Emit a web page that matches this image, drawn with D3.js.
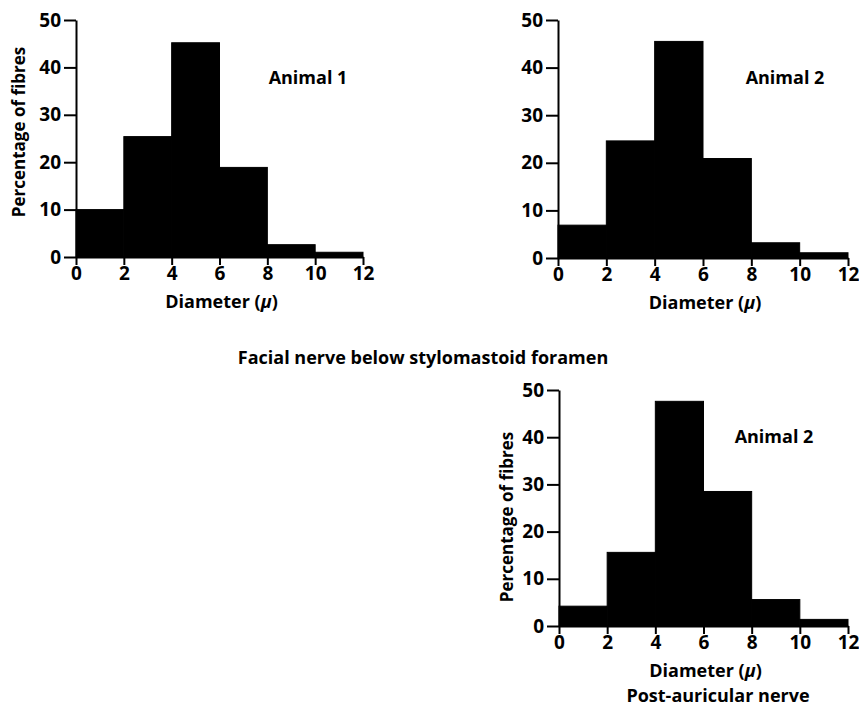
<!DOCTYPE html>
<html>
<head>
<meta charset="utf-8">
<script src="https://cdn.jsdelivr.net/npm/d3@7"></script>
<style>
  body { margin: 0; background: #fff; }
  svg text { font-family: "Open Sans", Lato, sans-serif; font-weight: 700; fill: #000; }
  .axis path, .axis line { stroke: #000; stroke-width: 2; }
  .axis text { font-size: 19px; font-family: "Open Sans", Lato, sans-serif; font-weight: 700; }
</style>
</head>
<body>
<div id="viz-body"></div>
<script>
// bin edges for the diameter histograms (microns)
const binEdges = [0, 2, 4, 6, 8, 10, 12];
const xTicks = [0, 2, 4, 6, 8, 10, 12];
const yTicks = [0, 10, 20, 30, 40, 50];

// percentage of fibres in each 2 micron bin
const animal1Facial = [10.0, 25.4, 45.2, 18.9, 2.6, 1.0];
const animal2Facial = [6.9, 24.6, 45.5, 20.9, 3.2, 1.1];
const animal2PostAuricular = [4.2, 15.6, 47.6, 28.5, 5.6, 1.4];

const width = 859, height = 707;

const svg = d3.select("#viz-body")
    .append("svg")
    .attr("width", width)
    .attr("height", height);

function drawPanel(box, values, opts) {
    let x = d3.scaleLinear().domain([0, 12]).range([box.left, box.right]);
    let y = d3.scaleLinear().domain([0, 50]).range([box.bottom, box.top]);

    // bars
    svg.append("g").selectAll("rect")
        .data(values)
        .join("rect")
        .attr("x", (d, i) => x(binEdges[i]))
        .attr("width", (d, i) => x(binEdges[i + 1]) - x(binEdges[i]))
        .attr("y", d => y(d))
        .attr("height", d => y(0) - y(d))
        .attr("fill", "#000")
        .attr("stroke", "#000")
        .attr("stroke-width", 1);

    // x axis
    svg.append("g")
        .attr("class", "axis")
        .attr("transform", "translate(0," + box.bottom + ")")
        .call(d3.axisBottom(x).tickValues(xTicks).tickSize(8).tickSizeOuter(0).tickPadding(2));

    // y axis
    svg.append("g")
        .attr("class", "axis")
        .attr("transform", "translate(" + box.left + ",0)")
        .call(d3.axisLeft(y).tickValues(yTicks).tickSize(12).tickSizeOuter(0).tickPadding(3));

    svg.append("text")
        .attr("x", (box.left + box.right) / 2 + 2)
        .attr("y", box.bottom + 51)
        .attr("text-anchor", "middle")
        .style("font-size", "18px")
        .html("Diameter (<tspan font-style='italic'>μ</tspan>)");

    svg.append("text")
        .attr("x", opts.animalX)
        .attr("y", opts.animalY)
        .attr("text-anchor", "middle")
        .style("font-size", "18px")
        .text(opts.animal);

    if (opts.yLabel) {
        svg.append("text")
            .attr("transform", "translate(" + opts.yLabelX + "," + opts.yLabelY + ") rotate(-90)")
            .attr("text-anchor", "middle")
            .style("font-size", "17px")
            .text("Percentage of fibres");
    }
}

drawPanel({ left: 76, right: 363, top: 20, bottom: 257 }, animal1Facial,
    { animal: "Animal 1", animalX: 308, animalY: 84, yLabel: true, yLabelX: 25, yLabelY: 132 });
drawPanel({ left: 558, right: 848, top: 20, bottom: 258 }, animal2Facial,
    { animal: "Animal 2", animalX: 785, animalY: 84, yLabel: false });
drawPanel({ left: 559, right: 848, top: 390, bottom: 626 }, animal2PostAuricular,
    { animal: "Animal 2", animalX: 774, animalY: 443, yLabel: true, yLabelX: 513, yLabelY: 517 });

svg.append("text")
    .attr("x", 423)
    .attr("y", 364)
    .attr("text-anchor", "middle")
    .style("font-size", "18px")
    .text("Facial nerve below stylomastoid foramen");

svg.append("text")
    .attr("x", 718)
    .attr("y", 702)
    .attr("text-anchor", "middle")
    .style("font-size", "18px")
    .text("Post-auricular nerve");
</script>
</body>
</html>
